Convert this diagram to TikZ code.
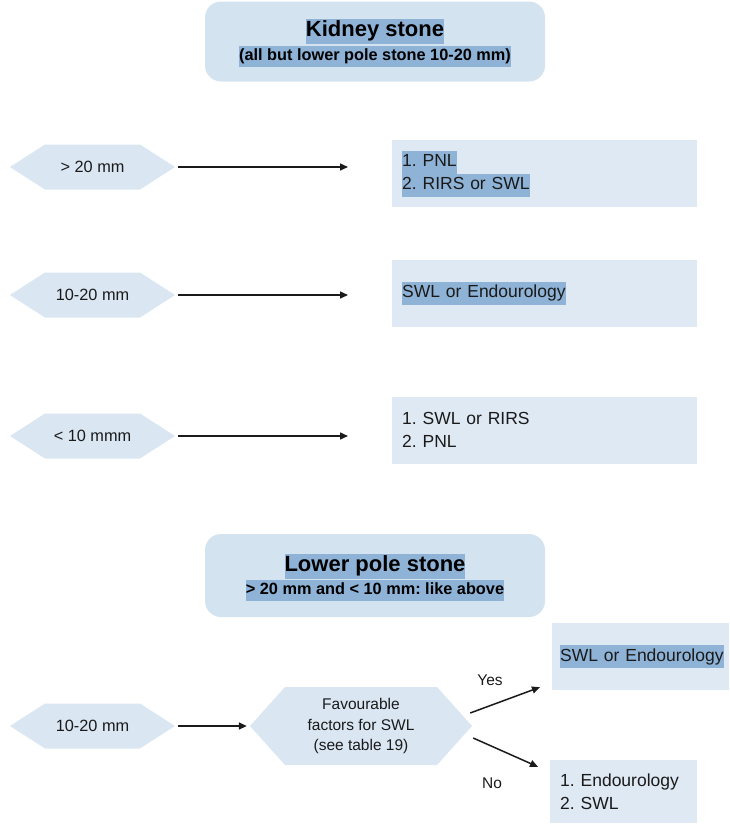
\documentclass[tikz,border=0pt]{standalone}
\usepackage{fontspec}
\setmainfont{Liberation Sans}
\usetikzlibrary{arrows.meta,calc}
\frenchspacing
\definecolor{boxfill}{HTML}{DFE9F4}
\definecolor{hexfill}{HTML}{DAE6F2}
\definecolor{titlefill}{HTML}{D4E3F0}
\definecolor{hlblue}{HTML}{8FB3D6}
\definecolor{ink}{HTML}{1A1A1A}
\newcommand\hltext[1]{{\setlength{\fboxsep}{0pt}\colorbox{hlblue}{\strut #1}}}
\tikzset{
  titlebox/.style={fill=titlefill, rounded corners=16pt, minimum width=340pt, minimum height=80pt, inner sep=0pt},
  titletext/.style={inner sep=0pt, text=black, font=\fontsize{22}{25}\selectfont\bfseries},
  subtext/.style={inner sep=0pt, text=black, font=\fontsize{16.3}{21}\selectfont\bfseries},
  ansbox/.style={fill=boxfill, anchor=west, inner xsep=10pt, inner ysep=0pt, align=left,
     text width=285pt, minimum height=67pt, text=ink, font=\fontsize{17.5}{23}\selectfont},
  hexa/.style={inner sep=0pt, minimum width=165pt, minimum height=45pt, text=ink,
     font=\fontsize{16.3}{20}\selectfont, align=center,
     path picture={\fill[hexfill] (path picture bounding box.west)
        -- ([xshift=35pt]path picture bounding box.north west)
        -- ([xshift=-35pt]path picture bounding box.north east)
        -- (path picture bounding box.east)
        -- ([xshift=-35pt]path picture bounding box.south east)
        -- ([xshift=35pt]path picture bounding box.south west) -- cycle;}},
  arr/.style={draw=ink, line width=1.5pt, -{Triangle[length=8pt,width=7pt]}},
  lbl/.style={inner sep=0pt, text=ink, font=\fontsize{15.5}{19}\selectfont}
}
\begin{document}
\begin{tikzpicture}[x=1pt,y=-1pt]
\useasboundingbox (0,0) rectangle (729,825);

% Top title
\node[titlebox] (tb1) at (375,41.5) {};
\node[titletext] (t1) at (375,31) {\hltext{Kidney stone}};
\node[subtext] (s1) at (375,56) {\hltext{(all but lower pole stone 10-20 mm)}};

% Row 1
\node[hexa] (h1) at (92.5,167) {> 20 mm};
\node[ansbox] (b1) at (392,173.5) {\hltext{1. PNL}\\\hltext{2. RIRS or SWL}};
\draw[arr, shorten <=3pt, shorten >=44pt] (h1.east) -- (h1.east -| b1.west);

% Row 2
\node[hexa] (h2) at (92.5,295) {10-20 mm};
\node[ansbox] (b2) at (392,293) {\hltext{SWL or Endourology}};
\draw[arr, shorten <=3pt, shorten >=44pt] (h2.east) -- (h2.east -| b2.west);

% Row 3
\node[hexa] (h3) at (92.5,436) {< 10 mmm};
\node[ansbox] (b3) at (392,430) {1. SWL or RIRS\\2. PNL};
\draw[arr, shorten <=3pt, shorten >=44pt] (h3.east) -- (h3.east -| b3.west);

% Lower pole title
\node[titlebox, minimum height=83pt] (tb2) at (375,575.5) {};
\node[titletext] (t2) at (375,566) {\hltext{Lower pole stone}};
\node[subtext] (s2) at (375,590) {\hltext{> 20 mm and < 10 mm: like above}};

% Lower pole flow
\node[hexa] (h4) at (92.5,726) {10-20 mm};
\node[hexa, minimum width=222pt, minimum height=78pt, font=\fontsize{15.5}{20.5}\selectfont] (fav) at (361,726)
  {Favourable\\factors for SWL\\(see table 19)};
\draw[arr, shorten <=3pt, shorten >=3pt] (h4.east) -- (fav.west);

\node[ansbox, text width=161pt, inner xsep=8pt, minimum height=67pt] (yes) at (552,656.5) {\hltext{SWL or Endourology}};
\node[ansbox, text width=127pt, minimum height=63pt] (no) at (550,791.5) {1. Endourology\\2. SWL};

\draw[arr] ($(fav.east)+(-2,-13)$) -- ($(yes.south west)+(-12,-3)$);
\draw[arr] ($(fav.east)+(1,12)$) -- ($(no.north west)+(-12,7)$);

\node[lbl] (ly) at (490,680) {Yes};
\node[lbl] (ln) at (492,783) {No};
\end{tikzpicture}
\end{document}
